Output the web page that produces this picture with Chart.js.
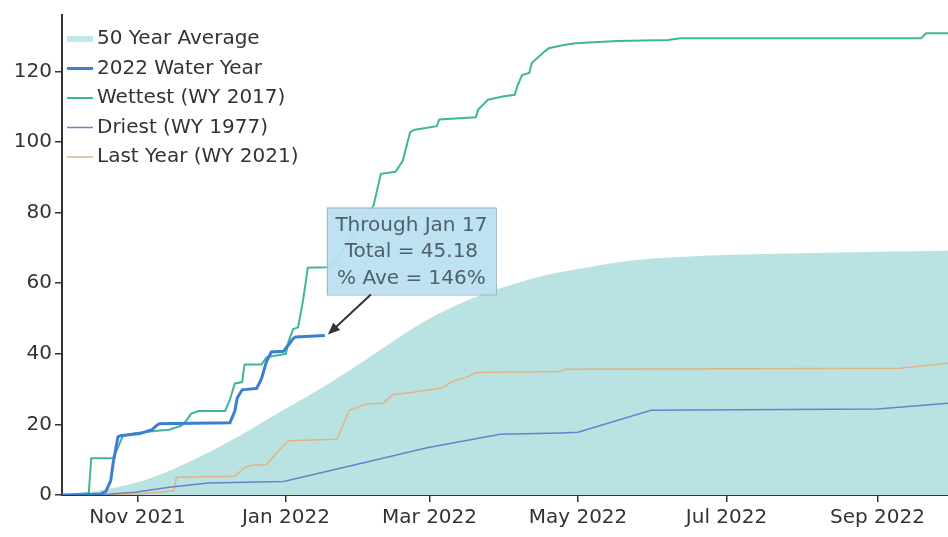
<!DOCTYPE html>
<html>
<head>
<meta charset="utf-8">
<title>Cumulative Precipitation - Water Year 2022</title>
<script src="https://cdn.jsdelivr.net/npm/chart.js@4.4.0/dist/chart.umd.min.js"></script>
<style>
  html, body { margin: 0; padding: 0; background: #fff; }
  #wrap { width: 948px; height: 537px; }
</style>
</head>
<body>
<div id="wrap"><canvas id="precipChart" width="948" height="537"></canvas></div>
<script>
// Day numbers count from Oct 1 2021 (day 0) to Sep 30 2022 (day 364)
const tickDays = [31, 92, 151, 212, 273, 335];
const tickLabels = ['Nov 2021', 'Jan 2022', 'Mar 2022', 'May 2022', 'Jul 2022', 'Sep 2022'];
const yTicks = [0, 20, 40, 60, 80, 100, 120];

// 50 year average (cumulative inches)
const avgDays = [0, 15, 31, 46, 61, 76, 92, 108, 123, 137, 151, 166, 182, 197, 212, 227, 243, 258, 273, 304, 335, 364];
const avgValues = [0, 1.2, 3.6, 7.4, 12.3, 18, 24.5, 30.9, 37.5, 44, 50, 55, 59, 62, 64, 65.8, 67, 67.6, 68, 68.5, 68.9, 69.2];

// 2022 water year, through Jan 17
const wy2022Days = [0, 10, 16, 18, 20, 21, 23, 24, 32, 37, 39, 40, 69, 71, 72, 74, 80, 82, 84, 86, 91, 93, 95, 96, 108];
const wy2022Values = [0, 0.1, 0.3, 1, 4, 9, 16.5, 16.8, 17.4, 18.5, 19.8, 20.2, 20.5, 23.8, 27.5, 29.8, 30.2, 33, 37.8, 40.5, 40.7, 42.5, 44.3, 44.8, 45.18];

// Wettest (WY 2017)
const wetDays = [0, 5, 11, 12, 21, 23, 25, 30, 39, 44, 49, 51, 53, 56, 67, 69, 71, 74, 75, 82, 84, 92, 93, 95, 97, 99, 101, 109, 112, 116, 120, 124, 128, 131, 137, 140, 143, 145, 154, 155, 170, 171, 175, 181, 186, 187, 189, 192, 193, 198, 200, 206, 211, 228, 249, 254, 353, 355, 364];
const wetValues = [0, 0.2, 0.5, 10.4, 10.5, 13.4, 16.8, 17.5, 18.2, 18.5, 19.6, 21, 23, 23.8, 23.8, 27, 31.6, 32, 37, 37, 39, 40, 43.4, 47, 47.5, 55, 64.4, 64.5, 66, 70, 74, 78, 82, 91, 91.6, 94.7, 102.8, 103.5, 104.5, 106.4, 107, 109.2, 112, 112.9, 113.4, 115.7, 119, 119.6, 122.4, 125.5, 126.6, 127.5, 128, 128.6, 128.9, 129.4, 129.4, 130.8, 130.8];

// Driest (WY 1977)
const dryDays = [0, 20, 30, 44, 60, 91, 120, 150, 180, 205, 212, 242, 335, 364];
const dryValues = [0, 0.3, 0.8, 2.2, 3.4, 3.8, 8.5, 13.4, 17.2, 17.6, 17.8, 24, 24.4, 26];

// Last year (WY 2021)
const lastDays = [0, 30, 40, 46, 47, 71, 75, 78, 84, 88, 93, 113, 118, 125, 132, 136, 143, 156, 160, 167, 170, 204, 207, 344, 364];
const lastValues = [0, 0.3, 0.8, 1.2, 5, 5.3, 7.8, 8.4, 8.6, 11.8, 15.4, 15.8, 24, 25.8, 26, 28.5, 29, 30.3, 32, 33.6, 34.7, 35, 35.6, 35.9, 37.3];

const noteDay = 108;
const noteTotal = 45.18;
const notePct = 146;
const noteLines = ['Through Jan 17', 'Total = ' + noteTotal.toFixed(2), '% Ave = ' + notePct + '%'];

const FONT = '"DejaVu Sans", Verdana, sans-serif';

function toPoints(days, values) {
    return days.map((d, i) => ({ x: d, y: values[i] }));
}

// legend drawn inside the plot, top left
const insideLegend = {
    id: 'insideLegend',
    afterDraw(chart) {
        const ctx = chart.ctx;
        const area = chart.chartArea;
        ctx.save();
        ctx.font = '20px ' + FONT;
        ctx.textBaseline = 'middle';
        ctx.fillStyle = '#333';
        chart.data.datasets.forEach((ds, i) => {
            const y = area.top + 24 + i * 29.5;
            ctx.strokeStyle = ds.swatchColor || ds.borderColor;
            ctx.lineWidth = ds.swatchWidth || ds.borderWidth;
            ctx.beginPath();
            ctx.moveTo(area.left + 5, y);
            ctx.lineTo(area.left + 31, y);
            ctx.stroke();
            ctx.fillText(ds.label, area.left + 35, y);
        });
        ctx.restore();
    }
};

// callout box with arrow at the end of the current year line
const callout = {
    id: 'callout',
    afterDatasetsDraw(chart) {
        const ctx = chart.ctx;
        const tipX = chart.scales.x.getPixelForValue(noteDay);
        const tipY = chart.scales.y.getPixelForValue(noteTotal);
        const boxX = tipX + 2, boxY = tipY - 128, boxW = 169, boxH = 87;
        ctx.save();
        ctx.fillStyle = 'rgba(186, 224, 240, 0.95)';
        ctx.strokeStyle = '#9fb4c0';
        ctx.lineWidth = 1;
        ctx.fillRect(boxX, boxY, boxW, boxH);
        ctx.strokeRect(boxX + 0.5, boxY + 0.5, boxW, boxH);
        ctx.fillStyle = '#4f5f6b';
        ctx.font = '20px ' + FONT;
        ctx.textAlign = 'center';
        ctx.textBaseline = 'middle';
        noteLines.forEach((t, i) => {
            ctx.fillText(t, boxX + boxW / 2, boxY + 18 + i * 26.5);
        });

        // arrow
        const sx = tipX + 46, sy = tipY - 41;
        const ex = tipX + 3, ey = tipY - 1;
        const ang = Math.atan2(ey - sy, ex - sx);
        ctx.strokeStyle = '#333';
        ctx.fillStyle = '#333';
        ctx.lineWidth = 2;
        ctx.beginPath();
        ctx.moveTo(sx, sy);
        ctx.lineTo(ex - 6 * Math.cos(ang), ey - 6 * Math.sin(ang));
        ctx.stroke();
        ctx.beginPath();
        ctx.moveTo(ex, ey);
        ctx.lineTo(ex - 12 * Math.cos(ang) + 5 * Math.sin(ang), ey - 12 * Math.sin(ang) - 5 * Math.cos(ang));
        ctx.lineTo(ex - 12 * Math.cos(ang) - 5 * Math.sin(ang), ey - 12 * Math.sin(ang) + 5 * Math.cos(ang));
        ctx.closePath();
        ctx.fill();
        ctx.restore();
    }
};

const ctx = document.getElementById('precipChart').getContext('2d');
new Chart(ctx, {
    type: 'line',
    data: {
        datasets: [
            {
                label: '50 Year Average',
                data: toPoints(avgDays, avgValues),
                borderColor: '#b9e2e2',
                backgroundColor: '#b9e2e2',
                borderWidth: 0,
                fill: 'origin',
                cubicInterpolationMode: 'monotone',
                swatchColor: '#c3e8e8',
                swatchWidth: 6,
                order: 5
            },
            {
                label: '2022 Water Year',
                data: toPoints(wy2022Days, wy2022Values),
                borderColor: '#3a7fd0',
                borderWidth: 3,
                fill: false,
                order: 1
            },
            {
                label: 'Wettest (WY 2017)',
                data: toPoints(wetDays, wetValues),
                borderColor: '#3fb59b',
                borderWidth: 2,
                fill: false,
                order: 2
            },
            {
                label: 'Driest (WY 1977)',
                data: toPoints(dryDays, dryValues),
                borderColor: '#6e7fca',
                borderWidth: 1.5,
                fill: false,
                order: 3
            },
            {
                label: 'Last Year (WY 2021)',
                data: toPoints(lastDays, lastValues),
                borderColor: '#e2b483',
                borderWidth: 1.5,
                fill: false,
                order: 4
            }
        ]
    },
    options: {
        responsive: false,
        animation: false,
        devicePixelRatio: 1,
        elements: { point: { radius: 0 }, line: { tension: 0 } },
        layout: { padding: { top: 10, right: 0, left: 0, bottom: 0 } },
        plugins: {
            legend: { display: false },
            tooltip: { enabled: false }
        },
        scales: {
            x: {
                type: 'linear',
                min: 0,
                max: 364,
                afterBuildTicks: scale => { scale.ticks = tickDays.map(v => ({ value: v })); },
                afterFit: scale => { scale.height = 42; },
                ticks: {
                    autoSkip: false,
                    maxRotation: 0,
                    padding: 4,
                    color: '#333',
                    font: { family: FONT, size: 20 },
                    callback: value => tickLabels[tickDays.indexOf(value)]
                },
                grid: { drawOnChartArea: false, drawTicks: true, tickLength: 7, color: '#333', lineWidth: 1.5 },
                border: { display: true, color: '#333', width: 2 }
            },
            y: {
                min: 0,
                max: 136,
                afterBuildTicks: scale => { scale.ticks = yTicks.map(v => ({ value: v })); },
                afterFit: scale => { scale.width = 62; },
                ticks: {
                    padding: 3,
                    color: '#333',
                    font: { family: FONT, size: 20 }
                },
                grid: { drawOnChartArea: false, drawTicks: true, tickLength: 7, color: '#333', lineWidth: 1.5 },
                border: { display: true, color: '#333', width: 2 }
            }
        }
    },
    plugins: [callout, insideLegend]
});
</script>
</body>
</html>
